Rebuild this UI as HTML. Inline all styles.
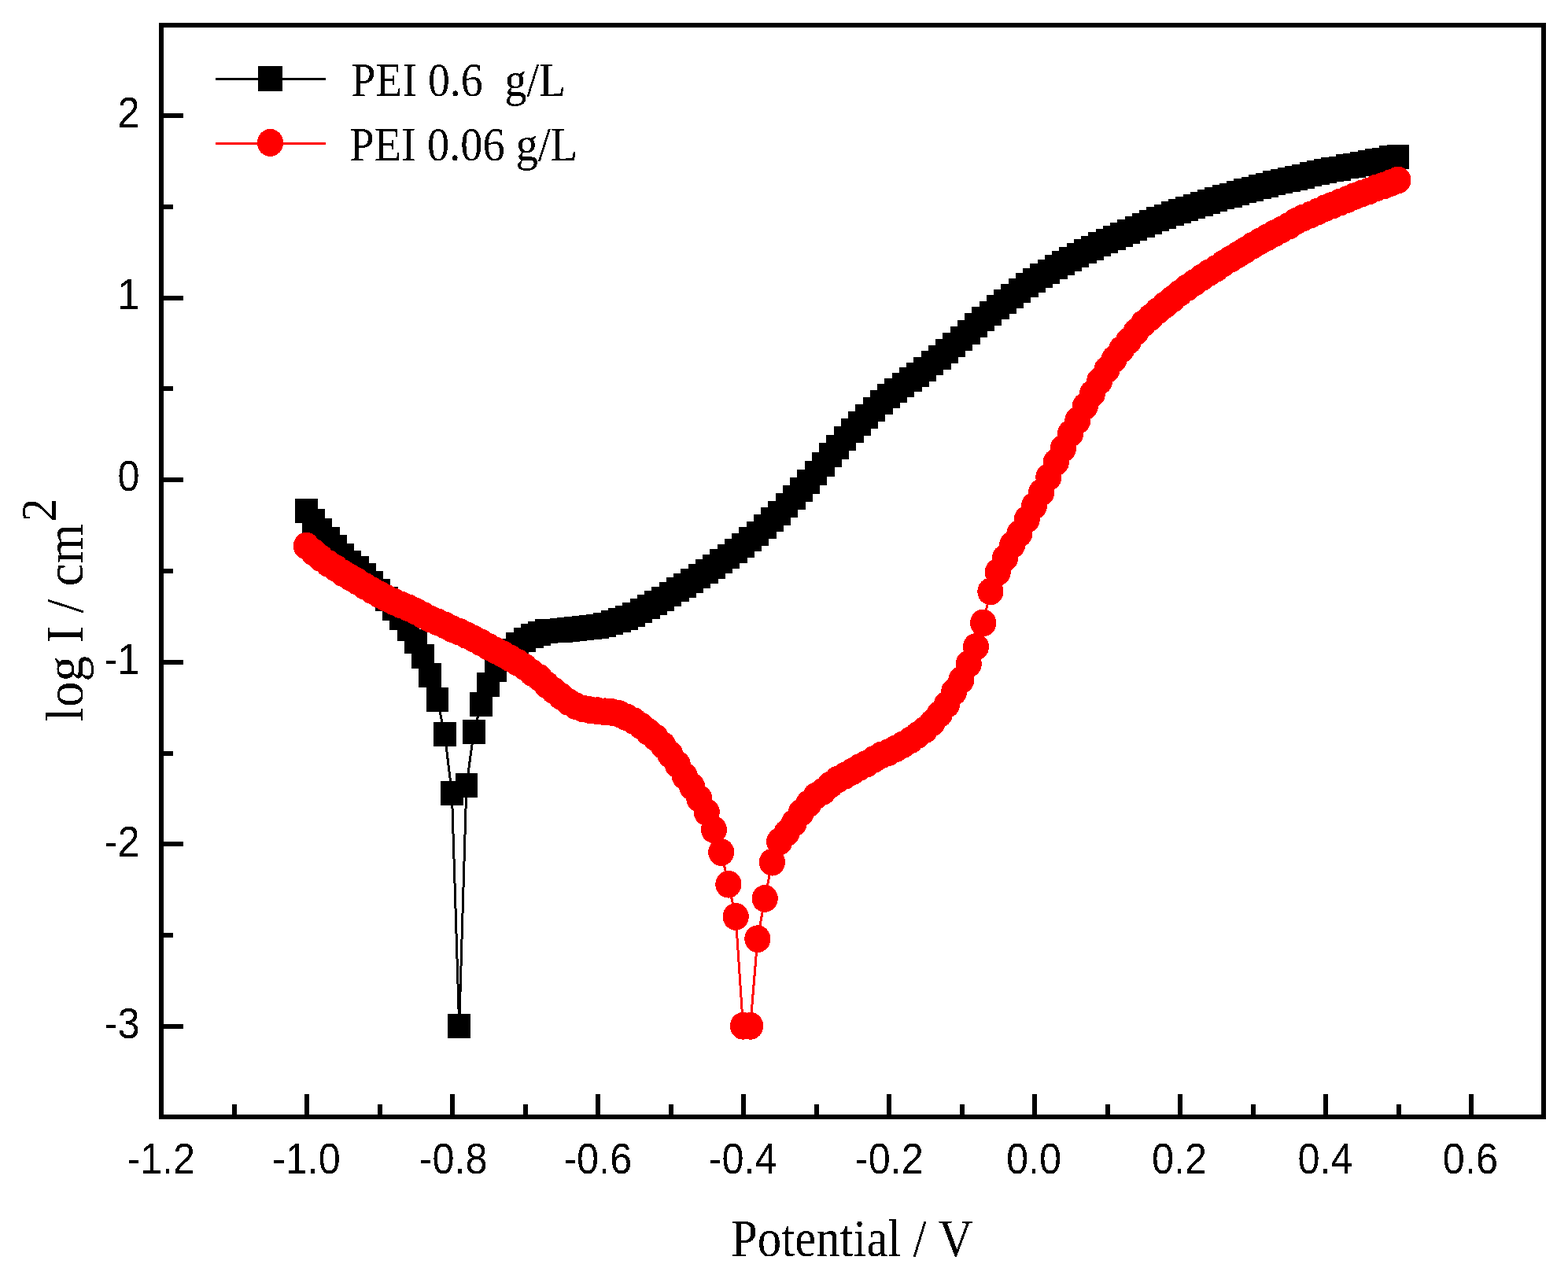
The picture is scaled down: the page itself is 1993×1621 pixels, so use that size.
<!DOCTYPE html>
<html><head><meta charset="utf-8"><title>Polarization curves</title>
<style>html,body{margin:0;padding:0;background:#fff;overflow:hidden}svg{display:block}</style></head><body>
<svg width="1993" height="1621" viewBox="0 0 1993 1621">
<rect x="0" y="0" width="1993" height="1621" fill="#fff"/>
<defs><filter id="bin" x="-5%" y="-5%" width="110%" height="110%"><feComponentTransfer><feFuncA type="discrete" tableValues="0 1"/></feComponentTransfer></filter></defs>
<g shape-rendering="crispEdges">
<polyline points="389.4,649.2 398.7,662.2 407.9,674.5 417.2,685.2 426.4,695.4 435.7,706.5 444.9,715.2 454.2,722.4 463.4,731.5 472.7,741.1 481.9,751.2 491.2,761.5 500.4,773.2 509.7,785.5 518.9,799.6 528.2,815.4 537.4,834.1 546.7,858.4 555.9,889.8 565.2,933.3 574.4,1008.6 583.7,1304.5 592.9,998.4 602.2,930.8 611.4,895.9 620.7,870.2 629.9,851.2 639.2,837.3 648.4,827.3 657.7,819.5 666.9,813.3 676.2,808.3 685.4,805.4 694.7,802.2 703.9,802 713.2,801.2 722.4,800.2 731.7,799.1 740.9,798.2 750.2,797.2 759.4,796.2 768.7,794.2 777.9,791.2 787.2,788.2 796.4,785.2 805.7,781.3 814.9,776.3 824.2,771.3 833.4,766.3 842.7,761.3 851.9,755.2 861.2,749.1 870.4,744.4 879.7,738.3 888.9,732.2 898.2,726.3 907.4,720.2 916.7,713.3 925.9,707.4 935.2,700.4 944.4,693.2 953.7,685.5 962.9,678.2 972.2,669.4 981.4,660.5 990.7,652.2 999.9,642.5 1009.2,632.4 1018.4,622.5 1027.7,612.5 1036.9,601.5 1046.2,590.4 1055.4,578.8 1064.7,568.6 1073.9,557.7 1083.2,547.6 1092.4,538.3 1101.7,529.5 1110.9,520.5 1120.2,511.6 1129.4,503.2 1138.7,496.3 1147.9,489.2 1157.2,482.1 1166.4,476.3 1175.7,469.2 1184.9,461.5 1194.2,454.3 1203.4,446.3 1212.7,438.5 1221.9,430.2 1231.2,422.2 1240.4,413.6 1249.7,405.6 1258.9,398.2 1268.2,390.4 1277.4,383.3 1286.7,376.3 1295.9,369.6 1305.2,362.7 1314.4,356.2 1323.7,350.3 1332.9,345.3 1342.2,339.2 1351.4,334.3 1360.7,329.3 1369.9,324.4 1379.2,319.4 1388.4,315.3 1397.7,310.4 1406.9,306.4 1416.2,302.3 1425.4,298.5 1434.7,294.4 1443.9,290.4 1453.2,286.3 1462.4,282.5 1471.7,278.4 1480.9,275.5 1490.2,271.4 1499.4,268.3 1508.7,265.4 1517.9,262.3 1527.2,259.3 1536.4,256.3 1545.7,253.4 1554.9,250.5 1564.2,248.5 1573.4,245.5 1582.7,242.5 1591.9,240.4 1601.2,237.3 1610.4,235.2 1619.7,232.4 1628.9,230.3 1638.2,228.3 1647.4,226.3 1656.7,224.2 1665.9,221.4 1675.2,219.5 1684.4,217.5 1693.7,215.3 1702.9,214.3 1712.2,211.4 1721.4,210.4 1730.7,208.4 1739.9,206.4 1749.2,204.4 1758.4,203.3 1767.7,200.4 1776.9,199.4" fill="none" stroke="#000" stroke-width="3" stroke-linejoin="round"/>
<g fill="#000">
<rect x="375" y="633.8" width="28.8" height="30.9"/>
<rect x="384.3" y="646.8" width="28.8" height="30.9"/>
<rect x="393.5" y="659" width="28.8" height="30.9"/>
<rect x="402.8" y="669.8" width="28.8" height="30.9"/>
<rect x="412" y="679.9" width="28.8" height="30.9"/>
<rect x="421.3" y="691" width="28.8" height="30.9"/>
<rect x="430.5" y="699.8" width="28.8" height="30.9"/>
<rect x="439.8" y="706.9" width="28.8" height="30.9"/>
<rect x="449" y="716" width="28.8" height="30.9"/>
<rect x="458.3" y="725.6" width="28.8" height="30.9"/>
<rect x="467.5" y="735.8" width="28.8" height="30.9"/>
<rect x="476.8" y="746" width="28.8" height="30.9"/>
<rect x="486" y="757.8" width="28.8" height="30.9"/>
<rect x="495.3" y="770" width="28.8" height="30.9"/>
<rect x="504.5" y="784.1" width="28.8" height="30.9"/>
<rect x="513.8" y="799.9" width="28.8" height="30.9"/>
<rect x="523" y="818.6" width="28.8" height="30.9"/>
<rect x="532.3" y="842.9" width="28.8" height="30.9"/>
<rect x="541.5" y="874.3" width="28.8" height="30.9"/>
<rect x="550.8" y="917.8" width="28.8" height="30.9"/>
<rect x="560" y="993.1" width="28.8" height="30.9"/>
<rect x="569.3" y="1289" width="28.8" height="30.9"/>
<rect x="578.5" y="982.9" width="28.8" height="30.9"/>
<rect x="587.8" y="915.3" width="28.8" height="30.9"/>
<rect x="597" y="880.4" width="28.8" height="30.9"/>
<rect x="606.3" y="854.8" width="28.8" height="30.9"/>
<rect x="615.5" y="835.8" width="28.8" height="30.9"/>
<rect x="624.8" y="821.8" width="28.8" height="30.9"/>
<rect x="634" y="811.8" width="28.8" height="30.9"/>
<rect x="643.3" y="804" width="28.8" height="30.9"/>
<rect x="652.5" y="797.8" width="28.8" height="30.9"/>
<rect x="661.8" y="792.8" width="28.8" height="30.9"/>
<rect x="671" y="789.9" width="28.8" height="30.9"/>
<rect x="680.3" y="786.8" width="28.8" height="30.9"/>
<rect x="689.5" y="786.5" width="28.8" height="30.9"/>
<rect x="698.8" y="785.8" width="28.8" height="30.9"/>
<rect x="708" y="784.8" width="28.8" height="30.9"/>
<rect x="717.3" y="783.6" width="28.8" height="30.9"/>
<rect x="726.5" y="782.8" width="28.8" height="30.9"/>
<rect x="735.8" y="781.8" width="28.8" height="30.9"/>
<rect x="745" y="780.8" width="28.8" height="30.9"/>
<rect x="754.3" y="778.8" width="28.8" height="30.9"/>
<rect x="763.5" y="775.8" width="28.8" height="30.9"/>
<rect x="772.8" y="772.8" width="28.8" height="30.9"/>
<rect x="782" y="769.8" width="28.8" height="30.9"/>
<rect x="791.3" y="765.8" width="28.8" height="30.9"/>
<rect x="800.5" y="760.8" width="28.8" height="30.9"/>
<rect x="809.8" y="755.8" width="28.8" height="30.9"/>
<rect x="819" y="750.8" width="28.8" height="30.9"/>
<rect x="828.3" y="745.8" width="28.8" height="30.9"/>
<rect x="837.5" y="739.8" width="28.8" height="30.9"/>
<rect x="846.8" y="733.6" width="28.8" height="30.9"/>
<rect x="856" y="728.9" width="28.8" height="30.9"/>
<rect x="865.3" y="722.8" width="28.8" height="30.9"/>
<rect x="874.5" y="716.8" width="28.8" height="30.9"/>
<rect x="883.8" y="710.8" width="28.8" height="30.9"/>
<rect x="893" y="704.8" width="28.8" height="30.9"/>
<rect x="902.3" y="697.8" width="28.8" height="30.9"/>
<rect x="911.5" y="691.9" width="28.8" height="30.9"/>
<rect x="920.8" y="684.9" width="28.8" height="30.9"/>
<rect x="930" y="677.8" width="28.8" height="30.9"/>
<rect x="939.3" y="670" width="28.8" height="30.9"/>
<rect x="948.5" y="662.8" width="28.8" height="30.9"/>
<rect x="957.8" y="653.9" width="28.8" height="30.9"/>
<rect x="967" y="645" width="28.8" height="30.9"/>
<rect x="976.3" y="636.8" width="28.8" height="30.9"/>
<rect x="985.5" y="627" width="28.8" height="30.9"/>
<rect x="994.8" y="616.9" width="28.8" height="30.9"/>
<rect x="1004" y="607" width="28.8" height="30.9"/>
<rect x="1013.3" y="597" width="28.8" height="30.9"/>
<rect x="1022.5" y="586" width="28.8" height="30.9"/>
<rect x="1031.8" y="574.9" width="28.8" height="30.9"/>
<rect x="1041" y="563.3" width="28.8" height="30.9"/>
<rect x="1050.2" y="553.1" width="28.8" height="30.9"/>
<rect x="1059.5" y="542.2" width="28.8" height="30.9"/>
<rect x="1068.8" y="532.1" width="28.8" height="30.9"/>
<rect x="1078" y="522.8" width="28.8" height="30.9"/>
<rect x="1087.2" y="514" width="28.8" height="30.9"/>
<rect x="1096.5" y="505.1" width="28.8" height="30.9"/>
<rect x="1105.8" y="496.2" width="28.8" height="30.9"/>
<rect x="1115" y="487.8" width="28.8" height="30.9"/>
<rect x="1124.2" y="480.9" width="28.8" height="30.9"/>
<rect x="1133.5" y="473.8" width="28.8" height="30.9"/>
<rect x="1142.8" y="466.7" width="28.8" height="30.9"/>
<rect x="1152" y="460.9" width="28.8" height="30.9"/>
<rect x="1161.2" y="453.8" width="28.8" height="30.9"/>
<rect x="1170.5" y="446.1" width="28.8" height="30.9"/>
<rect x="1179.8" y="438.9" width="28.8" height="30.9"/>
<rect x="1189" y="430.9" width="28.8" height="30.9"/>
<rect x="1198.2" y="423.1" width="28.8" height="30.9"/>
<rect x="1207.5" y="414.8" width="28.8" height="30.9"/>
<rect x="1216.8" y="406.8" width="28.8" height="30.9"/>
<rect x="1226" y="398.2" width="28.8" height="30.9"/>
<rect x="1235.2" y="390.2" width="28.8" height="30.9"/>
<rect x="1244.5" y="382.8" width="28.8" height="30.9"/>
<rect x="1253.8" y="374.9" width="28.8" height="30.9"/>
<rect x="1263" y="367.9" width="28.8" height="30.9"/>
<rect x="1272.2" y="360.9" width="28.8" height="30.9"/>
<rect x="1281.5" y="354.2" width="28.8" height="30.9"/>
<rect x="1290.8" y="347.2" width="28.8" height="30.9"/>
<rect x="1300" y="340.8" width="28.8" height="30.9"/>
<rect x="1309.2" y="334.9" width="28.8" height="30.9"/>
<rect x="1318.5" y="329.9" width="28.8" height="30.9"/>
<rect x="1327.8" y="323.8" width="28.8" height="30.9"/>
<rect x="1337" y="318.9" width="28.8" height="30.9"/>
<rect x="1346.2" y="313.9" width="28.8" height="30.9"/>
<rect x="1355.5" y="308.9" width="28.8" height="30.9"/>
<rect x="1364.8" y="303.9" width="28.8" height="30.9"/>
<rect x="1374" y="299.9" width="28.8" height="30.9"/>
<rect x="1383.2" y="294.9" width="28.8" height="30.9"/>
<rect x="1392.5" y="290.9" width="28.8" height="30.9"/>
<rect x="1401.8" y="286.9" width="28.8" height="30.9"/>
<rect x="1411" y="283.1" width="28.8" height="30.9"/>
<rect x="1420.2" y="278.9" width="28.8" height="30.9"/>
<rect x="1429.5" y="274.9" width="28.8" height="30.9"/>
<rect x="1438.8" y="270.9" width="28.8" height="30.9"/>
<rect x="1448" y="267.1" width="28.8" height="30.9"/>
<rect x="1457.2" y="262.9" width="28.8" height="30.9"/>
<rect x="1466.5" y="260.1" width="28.8" height="30.9"/>
<rect x="1475.8" y="255.9" width="28.8" height="30.9"/>
<rect x="1485" y="252.9" width="28.8" height="30.9"/>
<rect x="1494.2" y="249.9" width="28.8" height="30.9"/>
<rect x="1503.5" y="246.9" width="28.8" height="30.9"/>
<rect x="1512.8" y="243.9" width="28.8" height="30.9"/>
<rect x="1522" y="240.9" width="28.8" height="30.9"/>
<rect x="1531.2" y="238" width="28.8" height="30.9"/>
<rect x="1540.5" y="235.1" width="28.8" height="30.9"/>
<rect x="1549.8" y="233.1" width="28.8" height="30.9"/>
<rect x="1559" y="230.1" width="28.8" height="30.9"/>
<rect x="1568.2" y="227.1" width="28.8" height="30.9"/>
<rect x="1577.5" y="225" width="28.8" height="30.9"/>
<rect x="1586.8" y="221.9" width="28.8" height="30.9"/>
<rect x="1596" y="219.8" width="28.8" height="30.9"/>
<rect x="1605.2" y="217" width="28.8" height="30.9"/>
<rect x="1614.5" y="214.9" width="28.8" height="30.9"/>
<rect x="1623.8" y="212.9" width="28.8" height="30.9"/>
<rect x="1633" y="210.9" width="28.8" height="30.9"/>
<rect x="1642.2" y="208.8" width="28.8" height="30.9"/>
<rect x="1651.5" y="206" width="28.8" height="30.9"/>
<rect x="1660.8" y="204.1" width="28.8" height="30.9"/>
<rect x="1670" y="202.1" width="28.8" height="30.9"/>
<rect x="1679.2" y="199.9" width="28.8" height="30.9"/>
<rect x="1688.5" y="198.9" width="28.8" height="30.9"/>
<rect x="1697.8" y="196" width="28.8" height="30.9"/>
<rect x="1707" y="195" width="28.8" height="30.9"/>
<rect x="1716.2" y="193" width="28.8" height="30.9"/>
<rect x="1725.5" y="191" width="28.8" height="30.9"/>
<rect x="1734.8" y="189" width="28.8" height="30.9"/>
<rect x="1744" y="187.9" width="28.8" height="30.9"/>
<rect x="1753.2" y="185" width="28.8" height="30.9"/>
<rect x="1762.5" y="184" width="28.8" height="30.9"/>
</g>
<polyline points="389.4,694.1 398.7,702.1 407.9,709.7 417.2,716.3 426.4,722.2 435.7,728.6 444.9,733.9 454.2,739.2 463.4,745.1 472.7,750.6 481.9,755.6 491.2,760.5 500.4,764.8 509.7,768.9 518.9,772.7 528.2,777.1 537.4,782 546.7,786.9 555.9,790.7 565.2,794.7 574.4,799.5 583.7,803.2 592.9,807.5 602.2,812.1 611.4,816.9 620.7,822.1 629.9,827 639.2,831.6 648.4,836.8 657.7,842.2 666.9,847.9 676.2,855.3 685.4,861.4 694.7,870.6 703.9,878 713.2,885.4 722.4,892.3 731.7,897.6 740.9,901 750.2,902.7 759.4,903.7 768.7,904.8 777.9,905.5 787.2,907.6 796.4,911.9 805.7,916.7 814.9,923 824.2,930.5 833.4,937.8 842.7,947.5 851.9,959.3 861.2,972 870.4,986.8 879.7,1000.2 888.9,1015.5 898.2,1032.5 907.4,1054.7 916.7,1083.5 925.9,1124.2 935.2,1165.4 944.4,1304.3 953.7,1304.3 962.9,1193.7 972.2,1142.4 981.4,1096.2 990.7,1070 999.9,1059 1009.2,1046.5 1018.4,1033 1027.7,1022 1036.9,1012.1 1046.2,1006.1 1055.4,997.8 1064.7,991.1 1073.9,986.2 1083.2,981 1092.4,975.6 1101.7,971 1110.9,965.3 1120.2,960 1129.4,956.5 1138.7,951.8 1147.9,946.7 1157.2,941 1166.4,934.6 1175.7,927.8 1184.9,919 1194.2,907.9 1203.4,895.8 1212.7,879.4 1221.9,864.4 1231.2,844 1240.4,822.4 1249.7,791.9 1258.9,752 1268.2,727.5 1277.4,709.6 1286.7,692.8 1295.9,678.3 1305.2,660.5 1314.4,643.3 1323.7,626.1 1332.9,606.6 1342.2,587.8 1351.4,570 1360.7,551.1 1369.9,534.4 1379.2,516.6 1388.4,500.5 1397.7,484.4 1406.9,470 1416.2,456.7 1425.4,444.4 1434.7,433.3 1443.9,422 1453.2,411.5 1462.4,403.5 1471.7,395.2 1480.9,387.7 1490.2,380.3 1499.4,372.8 1508.7,365.9 1517.9,359.5 1527.2,353 1536.4,346.9 1545.7,341.4 1554.9,335.1 1564.2,329.4 1573.4,323.8 1582.7,318.2 1591.9,312.3 1601.2,306.9 1610.4,301.9 1619.7,296.9 1628.9,292.1 1638.2,287.2 1647.4,281.3 1656.7,276.8 1665.9,273 1675.2,268.8 1684.4,264.7 1693.7,261 1702.9,257.2 1712.2,253.6 1721.4,249.7 1730.7,246.2 1739.9,242.9 1749.2,239 1758.4,236.1 1767.7,232.6 1776.9,229" fill="none" stroke="#f00" stroke-width="3" stroke-linejoin="round"/>
<g fill="#f00">
<ellipse cx="389.4" cy="694.1" rx="16.6" ry="17.4"/>
<ellipse cx="398.7" cy="702.1" rx="16.6" ry="17.4"/>
<ellipse cx="407.9" cy="709.7" rx="16.6" ry="17.4"/>
<ellipse cx="417.2" cy="716.3" rx="16.6" ry="17.4"/>
<ellipse cx="426.4" cy="722.2" rx="16.6" ry="17.4"/>
<ellipse cx="435.7" cy="728.6" rx="16.6" ry="17.4"/>
<ellipse cx="444.9" cy="733.9" rx="16.6" ry="17.4"/>
<ellipse cx="454.2" cy="739.2" rx="16.6" ry="17.4"/>
<ellipse cx="463.4" cy="745.1" rx="16.6" ry="17.4"/>
<ellipse cx="472.7" cy="750.6" rx="16.6" ry="17.4"/>
<ellipse cx="481.9" cy="755.6" rx="16.6" ry="17.4"/>
<ellipse cx="491.2" cy="760.5" rx="16.6" ry="17.4"/>
<ellipse cx="500.4" cy="764.8" rx="16.6" ry="17.4"/>
<ellipse cx="509.7" cy="768.9" rx="16.6" ry="17.4"/>
<ellipse cx="518.9" cy="772.7" rx="16.6" ry="17.4"/>
<ellipse cx="528.2" cy="777.1" rx="16.6" ry="17.4"/>
<ellipse cx="537.4" cy="782" rx="16.6" ry="17.4"/>
<ellipse cx="546.7" cy="786.9" rx="16.6" ry="17.4"/>
<ellipse cx="555.9" cy="790.7" rx="16.6" ry="17.4"/>
<ellipse cx="565.2" cy="794.7" rx="16.6" ry="17.4"/>
<ellipse cx="574.4" cy="799.5" rx="16.6" ry="17.4"/>
<ellipse cx="583.7" cy="803.2" rx="16.6" ry="17.4"/>
<ellipse cx="592.9" cy="807.5" rx="16.6" ry="17.4"/>
<ellipse cx="602.2" cy="812.1" rx="16.6" ry="17.4"/>
<ellipse cx="611.4" cy="816.9" rx="16.6" ry="17.4"/>
<ellipse cx="620.7" cy="822.1" rx="16.6" ry="17.4"/>
<ellipse cx="629.9" cy="827" rx="16.6" ry="17.4"/>
<ellipse cx="639.2" cy="831.6" rx="16.6" ry="17.4"/>
<ellipse cx="648.4" cy="836.8" rx="16.6" ry="17.4"/>
<ellipse cx="657.7" cy="842.2" rx="16.6" ry="17.4"/>
<ellipse cx="666.9" cy="847.9" rx="16.6" ry="17.4"/>
<ellipse cx="676.2" cy="855.3" rx="16.6" ry="17.4"/>
<ellipse cx="685.4" cy="861.4" rx="16.6" ry="17.4"/>
<ellipse cx="694.7" cy="870.6" rx="16.6" ry="17.4"/>
<ellipse cx="703.9" cy="878" rx="16.6" ry="17.4"/>
<ellipse cx="713.2" cy="885.4" rx="16.6" ry="17.4"/>
<ellipse cx="722.4" cy="892.3" rx="16.6" ry="17.4"/>
<ellipse cx="731.7" cy="897.6" rx="16.6" ry="17.4"/>
<ellipse cx="740.9" cy="901" rx="16.6" ry="17.4"/>
<ellipse cx="750.2" cy="902.7" rx="16.6" ry="17.4"/>
<ellipse cx="759.4" cy="903.7" rx="16.6" ry="17.4"/>
<ellipse cx="768.7" cy="904.8" rx="16.6" ry="17.4"/>
<ellipse cx="777.9" cy="905.5" rx="16.6" ry="17.4"/>
<ellipse cx="787.2" cy="907.6" rx="16.6" ry="17.4"/>
<ellipse cx="796.4" cy="911.9" rx="16.6" ry="17.4"/>
<ellipse cx="805.7" cy="916.7" rx="16.6" ry="17.4"/>
<ellipse cx="814.9" cy="923" rx="16.6" ry="17.4"/>
<ellipse cx="824.2" cy="930.5" rx="16.6" ry="17.4"/>
<ellipse cx="833.4" cy="937.8" rx="16.6" ry="17.4"/>
<ellipse cx="842.7" cy="947.5" rx="16.6" ry="17.4"/>
<ellipse cx="851.9" cy="959.3" rx="16.6" ry="17.4"/>
<ellipse cx="861.2" cy="972" rx="16.6" ry="17.4"/>
<ellipse cx="870.4" cy="986.8" rx="16.6" ry="17.4"/>
<ellipse cx="879.7" cy="1000.2" rx="16.6" ry="17.4"/>
<ellipse cx="888.9" cy="1015.5" rx="16.6" ry="17.4"/>
<ellipse cx="898.2" cy="1032.5" rx="16.6" ry="17.4"/>
<ellipse cx="907.4" cy="1054.7" rx="16.6" ry="17.4"/>
<ellipse cx="916.7" cy="1083.5" rx="16.6" ry="17.4"/>
<ellipse cx="925.9" cy="1124.2" rx="16.6" ry="17.4"/>
<ellipse cx="935.2" cy="1165.4" rx="16.6" ry="17.4"/>
<ellipse cx="944.4" cy="1304.3" rx="16.6" ry="17.4"/>
<ellipse cx="953.7" cy="1304.3" rx="16.6" ry="17.4"/>
<ellipse cx="962.9" cy="1193.7" rx="16.6" ry="17.4"/>
<ellipse cx="972.2" cy="1142.4" rx="16.6" ry="17.4"/>
<ellipse cx="981.4" cy="1096.2" rx="16.6" ry="17.4"/>
<ellipse cx="990.7" cy="1070" rx="16.6" ry="17.4"/>
<ellipse cx="999.9" cy="1059" rx="16.6" ry="17.4"/>
<ellipse cx="1009.2" cy="1046.5" rx="16.6" ry="17.4"/>
<ellipse cx="1018.4" cy="1033" rx="16.6" ry="17.4"/>
<ellipse cx="1027.7" cy="1022" rx="16.6" ry="17.4"/>
<ellipse cx="1036.9" cy="1012.1" rx="16.6" ry="17.4"/>
<ellipse cx="1046.2" cy="1006.1" rx="16.6" ry="17.4"/>
<ellipse cx="1055.4" cy="997.8" rx="16.6" ry="17.4"/>
<ellipse cx="1064.7" cy="991.1" rx="16.6" ry="17.4"/>
<ellipse cx="1073.9" cy="986.2" rx="16.6" ry="17.4"/>
<ellipse cx="1083.2" cy="981" rx="16.6" ry="17.4"/>
<ellipse cx="1092.4" cy="975.6" rx="16.6" ry="17.4"/>
<ellipse cx="1101.7" cy="971" rx="16.6" ry="17.4"/>
<ellipse cx="1110.9" cy="965.3" rx="16.6" ry="17.4"/>
<ellipse cx="1120.2" cy="960" rx="16.6" ry="17.4"/>
<ellipse cx="1129.4" cy="956.5" rx="16.6" ry="17.4"/>
<ellipse cx="1138.7" cy="951.8" rx="16.6" ry="17.4"/>
<ellipse cx="1147.9" cy="946.7" rx="16.6" ry="17.4"/>
<ellipse cx="1157.2" cy="941" rx="16.6" ry="17.4"/>
<ellipse cx="1166.4" cy="934.6" rx="16.6" ry="17.4"/>
<ellipse cx="1175.7" cy="927.8" rx="16.6" ry="17.4"/>
<ellipse cx="1184.9" cy="919" rx="16.6" ry="17.4"/>
<ellipse cx="1194.2" cy="907.9" rx="16.6" ry="17.4"/>
<ellipse cx="1203.4" cy="895.8" rx="16.6" ry="17.4"/>
<ellipse cx="1212.7" cy="879.4" rx="16.6" ry="17.4"/>
<ellipse cx="1221.9" cy="864.4" rx="16.6" ry="17.4"/>
<ellipse cx="1231.2" cy="844" rx="16.6" ry="17.4"/>
<ellipse cx="1240.4" cy="822.4" rx="16.6" ry="17.4"/>
<ellipse cx="1249.7" cy="791.9" rx="16.6" ry="17.4"/>
<ellipse cx="1258.9" cy="752" rx="16.6" ry="17.4"/>
<ellipse cx="1268.2" cy="727.5" rx="16.6" ry="17.4"/>
<ellipse cx="1277.4" cy="709.6" rx="16.6" ry="17.4"/>
<ellipse cx="1286.7" cy="692.8" rx="16.6" ry="17.4"/>
<ellipse cx="1295.9" cy="678.3" rx="16.6" ry="17.4"/>
<ellipse cx="1305.2" cy="660.5" rx="16.6" ry="17.4"/>
<ellipse cx="1314.4" cy="643.3" rx="16.6" ry="17.4"/>
<ellipse cx="1323.7" cy="626.1" rx="16.6" ry="17.4"/>
<ellipse cx="1332.9" cy="606.6" rx="16.6" ry="17.4"/>
<ellipse cx="1342.2" cy="587.8" rx="16.6" ry="17.4"/>
<ellipse cx="1351.4" cy="570" rx="16.6" ry="17.4"/>
<ellipse cx="1360.7" cy="551.1" rx="16.6" ry="17.4"/>
<ellipse cx="1369.9" cy="534.4" rx="16.6" ry="17.4"/>
<ellipse cx="1379.2" cy="516.6" rx="16.6" ry="17.4"/>
<ellipse cx="1388.4" cy="500.5" rx="16.6" ry="17.4"/>
<ellipse cx="1397.7" cy="484.4" rx="16.6" ry="17.4"/>
<ellipse cx="1406.9" cy="470" rx="16.6" ry="17.4"/>
<ellipse cx="1416.2" cy="456.7" rx="16.6" ry="17.4"/>
<ellipse cx="1425.4" cy="444.4" rx="16.6" ry="17.4"/>
<ellipse cx="1434.7" cy="433.3" rx="16.6" ry="17.4"/>
<ellipse cx="1443.9" cy="422" rx="16.6" ry="17.4"/>
<ellipse cx="1453.2" cy="411.5" rx="16.6" ry="17.4"/>
<ellipse cx="1462.4" cy="403.5" rx="16.6" ry="17.4"/>
<ellipse cx="1471.7" cy="395.2" rx="16.6" ry="17.4"/>
<ellipse cx="1480.9" cy="387.7" rx="16.6" ry="17.4"/>
<ellipse cx="1490.2" cy="380.3" rx="16.6" ry="17.4"/>
<ellipse cx="1499.4" cy="372.8" rx="16.6" ry="17.4"/>
<ellipse cx="1508.7" cy="365.9" rx="16.6" ry="17.4"/>
<ellipse cx="1517.9" cy="359.5" rx="16.6" ry="17.4"/>
<ellipse cx="1527.2" cy="353" rx="16.6" ry="17.4"/>
<ellipse cx="1536.4" cy="346.9" rx="16.6" ry="17.4"/>
<ellipse cx="1545.7" cy="341.4" rx="16.6" ry="17.4"/>
<ellipse cx="1554.9" cy="335.1" rx="16.6" ry="17.4"/>
<ellipse cx="1564.2" cy="329.4" rx="16.6" ry="17.4"/>
<ellipse cx="1573.4" cy="323.8" rx="16.6" ry="17.4"/>
<ellipse cx="1582.7" cy="318.2" rx="16.6" ry="17.4"/>
<ellipse cx="1591.9" cy="312.3" rx="16.6" ry="17.4"/>
<ellipse cx="1601.2" cy="306.9" rx="16.6" ry="17.4"/>
<ellipse cx="1610.4" cy="301.9" rx="16.6" ry="17.4"/>
<ellipse cx="1619.7" cy="296.9" rx="16.6" ry="17.4"/>
<ellipse cx="1628.9" cy="292.1" rx="16.6" ry="17.4"/>
<ellipse cx="1638.2" cy="287.2" rx="16.6" ry="17.4"/>
<ellipse cx="1647.4" cy="281.3" rx="16.6" ry="17.4"/>
<ellipse cx="1656.7" cy="276.8" rx="16.6" ry="17.4"/>
<ellipse cx="1665.9" cy="273" rx="16.6" ry="17.4"/>
<ellipse cx="1675.2" cy="268.8" rx="16.6" ry="17.4"/>
<ellipse cx="1684.4" cy="264.7" rx="16.6" ry="17.4"/>
<ellipse cx="1693.7" cy="261" rx="16.6" ry="17.4"/>
<ellipse cx="1702.9" cy="257.2" rx="16.6" ry="17.4"/>
<ellipse cx="1712.2" cy="253.6" rx="16.6" ry="17.4"/>
<ellipse cx="1721.4" cy="249.7" rx="16.6" ry="17.4"/>
<ellipse cx="1730.7" cy="246.2" rx="16.6" ry="17.4"/>
<ellipse cx="1739.9" cy="242.9" rx="16.6" ry="17.4"/>
<ellipse cx="1749.2" cy="239" rx="16.6" ry="17.4"/>
<ellipse cx="1758.4" cy="236.1" rx="16.6" ry="17.4"/>
<ellipse cx="1767.7" cy="232.6" rx="16.6" ry="17.4"/>
<ellipse cx="1776.9" cy="229" rx="16.6" ry="17.4"/>
</g>
<rect x="205" y="32" width="1757" height="1388.3" fill="none" stroke="#000" stroke-width="6"/>
<path d="M205,1420V1391M297.5,1420V1404.3M390,1420V1391M482.5,1420V1404.3M575,1420V1391M667.5,1420V1404.3M760,1420V1391M852.5,1420V1404.3M945,1420V1391M1037.5,1420V1404.3M1130,1420V1391M1222.5,1420V1404.3M1315,1420V1391M1407.5,1420V1404.3M1500,1420V1391M1592.5,1420V1404.3M1685,1420V1391M1777.5,1420V1404.3M1870,1420V1391M205,1305H232.5M205,1189.2H220.4M205,1073.4H232.5M205,957.6H220.4M205,841.8H232.5M205,726H220.4M205,610.2H232.5M205,494.4H220.4M205,378.6H232.5M205,262.8H220.4M205,147H232.5" stroke="#000" stroke-width="6" fill="none"/>
</g>
<g font-family="'Liberation Sans', Arial, sans-serif" font-size="56.0" fill="#000" style="font-kerning:none" filter="url(#bin)">
<text transform="translate(161.16,1491.9) scale(0.90120,1.00000)">-1.2</text>
<text transform="translate(345.97,1491.9) scale(0.90120,1.00000)">-1.0</text>
<text transform="translate(532.59,1491.9) scale(0.90120,1.00000)">-0.8</text>
<text transform="translate(716.25,1491.9) scale(0.90120,1.00000)">-0.6</text>
<text transform="translate(900.73,1491.9) scale(0.90120,1.00000)">-0.4</text>
<text transform="translate(1086.86,1491.9) scale(0.90120,1.00000)">-0.2</text>
<text transform="translate(1278.98,1491.9) scale(0.90120,1.00000)">0.0</text>
<text transform="translate(1463.96,1491.9) scale(0.90120,1.00000)">0.2</text>
<text transform="translate(1649.53,1491.9) scale(0.90120,1.00000)">0.4</text>
<text transform="translate(1833.85,1491.9) scale(0.90120,1.00000)">0.6</text>
<text transform="translate(177.6,162.0) scale(0.90120,1.00000)" text-anchor="end">2</text>
<text transform="translate(177.6,392.8) scale(0.90120,1.00000)" text-anchor="end">1</text>
<text transform="translate(177.6,624.0) scale(0.90120,1.00000)" text-anchor="end">0</text>
<text transform="translate(177.6,856.8) scale(0.90120,1.00000)" text-anchor="end">-1</text>
<text transform="translate(177.6,1088.9) scale(0.90120,1.00000)" text-anchor="end">-2</text>
<text transform="translate(177.6,1319.5) scale(0.90120,1.00000)" text-anchor="end">-3</text>
</g>
<g font-family="'Liberation Serif', 'Times New Roman', serif" fill="#000" style="font-kerning:none" filter="url(#bin)">
<text transform="translate(928.95,1596.6) scale(0.9087,1)" font-size="67">Potential / V</text>
<text transform="translate(105.0,917.20) rotate(-90) scale(0.976,1)" font-size="66.7">log I / cm</text>
<text transform="translate(71.0,663.44) rotate(-90) scale(0.956,1)" font-size="62.9">2</text>
<text transform="translate(446.34,122.0) scale(0.900,1)" font-size="62" xml:space="preserve" style="white-space:pre">PEI 0.6  g/L</text>
<text transform="translate(444.27,203.8) scale(0.910,1)" font-size="62" xml:space="preserve" style="white-space:pre">PEI 0.06 g/L</text>
</g>
<g shape-rendering="crispEdges">
<path d="M273.5,100.4H413.5" stroke="#000" stroke-width="3"/>
<rect x="328" y="84" width="30.9" height="31.9" fill="#000"/>
<path d="M273.5,182.5H413.5" stroke="#f00" stroke-width="3"/>
<ellipse cx="343.5" cy="181.45" rx="16.6" ry="17.55" fill="#f00"/>
</g>
</svg></body></html>
